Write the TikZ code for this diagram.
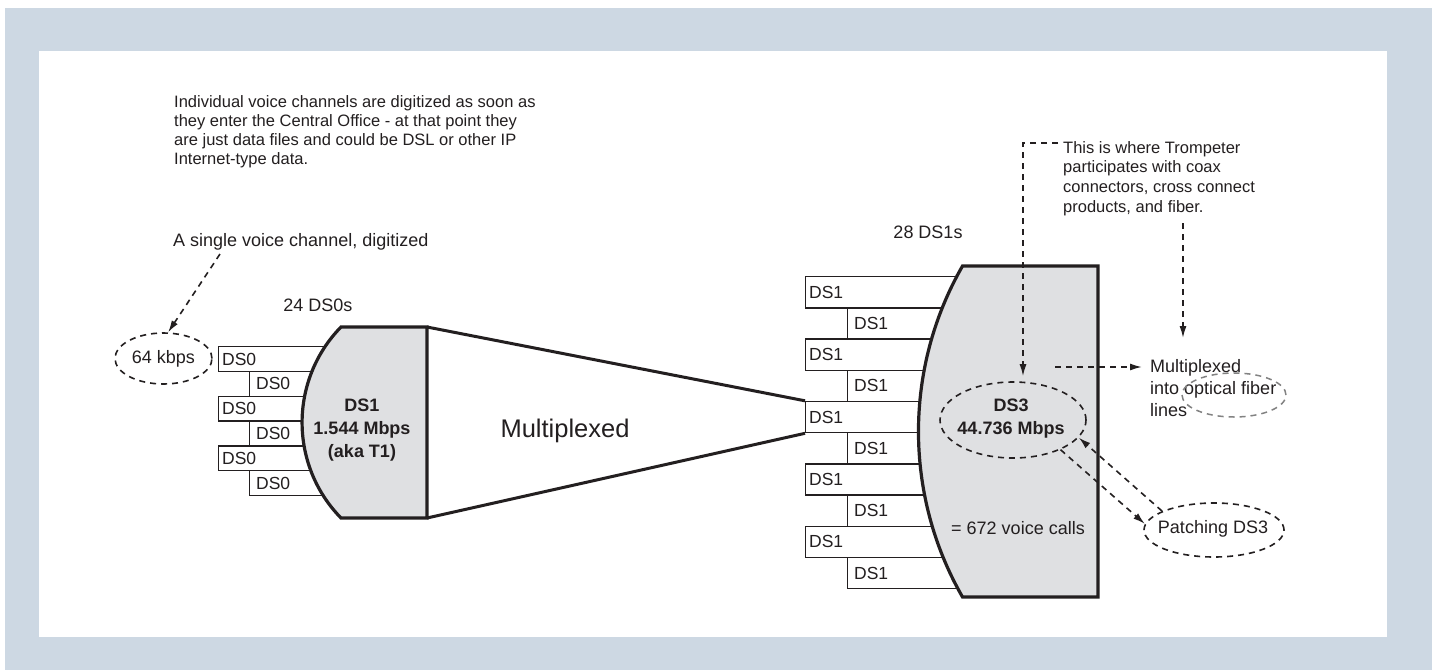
\documentclass[tikz,border=0pt]{standalone}
\usepackage{fontspec}
\setmainfont{Liberation Sans}
\usetikzlibrary{arrows.meta,shapes.geometric}
\definecolor{bgblue}{RGB}{205,216,227}
\definecolor{shapegray}{RGB}{223,224,226}
\definecolor{ink}{RGB}{35,31,32}
\definecolor{fibergray}{RGB}{130,130,130}
\newcommand\tfpara{\fontsize{16.5}{19}\selectfont}
\newcommand\tfparb{\fontsize{16.5}{19.7}\selectfont}
\newcommand\tfnorm{\fontsize{18}{22}\selectfont}
\newcommand\tfboxt{\fontsize{17.5}{20}\selectfont}
\newcommand\tfbig{\fontsize{25.5}{30}\selectfont}
\newcommand\tfbold{\fontsize{18}{23}\selectfont\bfseries}
\begin{document}
\begin{tikzpicture}[x=1pt,y=-1pt,
  txt/.style={text=ink, inner sep=0pt, font=\tfnorm},
  boxA/.style={draw=ink, line width=1.3pt, fill=white, anchor=north west, text=ink,
    font=\tfboxt, inner ysep=0pt, inner xsep=3.5pt, align=left},
  dza/.style={boxA, text width=155pt, minimum height=24.8pt},
  dzb/.style={boxA, inner xsep=6.5pt, text width=118pt, minimum height=24.8pt},
  doa/.style={boxA, text width=163pt, minimum height=31.2pt},
  dob/.style={boxA, inner xsep=6.5pt, text width=115pt, minimum height=31.2pt},
  shapeline/.style={draw=ink, line width=3.2pt, fill=shapegray, line join=miter},
  thickline/.style={draw=ink, line width=3pt},
  dashline/.style={draw=ink, line width=1.6pt, dash pattern=on 6pt off 5pt},
  dasharrow/.style={dashline, -{Latex[length=12pt,width=7pt]}},
  dellipse/.style={ellipse, dashline, inner sep=0pt}]
\useasboundingbox (0,0) rectangle (1432,670);
\fill[bgblue] (5,8) rectangle (1432,670);
\fill[white] (39,51) rectangle (1387,637);

% intro texts
\node[txt, anchor=north west, align=left, font=\tfpara] (intro) at (174,95)
  {Individual voice channels are digitized as soon as\\they enter the Central Office - at that point they\\are just data files and could be DSL or other IP\\Internet-type data.};
\node[txt, anchor=base west] (single) at (173,246) {A single voice channel, digitized};
\coordinate (sstart) at (220,254);
\node[dellipse, minimum width=97pt, minimum height=51pt] (kbps) at (163.5,358.5) {};
\node[txt] (kbpslbl) at (kbps) {64 kbps};
\draw[dasharrow] (sstart) -- (kbps.80);
\node[txt, anchor=base] (dzcount) at (318,311) {24 DS0s};

% DS0 boxes
\node[dza] (d1) at (218,346) {DS0};
\node[dzb] (d2) at (249,370.8) {DS0};
\node[dza] (d3) at (218,395.6) {DS0};
\node[dzb] (d4) at (249,420.4) {DS0};
\node[dza] (d5) at (218,445.2) {DS0};
\node[dzb] (d6) at (249,470) {DS0};

% DS1 boxes
\node[doa] (r1) at (805,276) {DS1};
\node[dob] (r2) at (847,307.2) {DS1};
\node[doa] (r3) at (805,338.4) {DS1};
\node[dob] (r4) at (847,369.6) {DS1};
\node[doa] (r5) at (805,400.8) {DS1};
\node[dob] (r6) at (847,432) {DS1};
\node[doa] (r7) at (805,463.2) {DS1};
\node[dob] (r8) at (847,494.4) {DS1};
\node[doa] (r9) at (805,525.6) {DS1};
\node[dob] (r10) at (847,556.8) {DS1};

% DS1 shape
\coordinate (ds1nw) at (341,327);
\coordinate (ds1ne) at (427,327);
\coordinate (ds1se) at (427,518);
\coordinate (ds1sw) at (341,518);
\draw[shapeline] (ds1sw) .. controls (289.1,465) and (289.1,380) .. (ds1nw) -- (ds1ne) -- (ds1se) -- cycle;
\node[txt, anchor=north, align=center, font=\tfbold] (ds1lbl) at (362,398.5) {DS1\\1.544 Mbps\\(aka T1)};

% multiplex connectors
\draw[thickline] (ds1ne) -- (r5.north west);
\draw[thickline] (ds1se) -- (r5.south west);
\node[txt, anchor=base, font=\tfbig] (muxlbl) at (565,437) {Multiplexed};

% DS3 shape
\coordinate (ds3nw) at (962.5,266);
\coordinate (ds3ne) at (1098,266);
\coordinate (ds3se) at (1098,597);
\coordinate (ds3sw) at (962.5,597);
\draw[shapeline] (ds3sw) .. controls (903.8,494.7) and (903.8,368.3) .. (ds3nw) -- (ds3ne) -- (ds3se) -- cycle;
\node[txt, anchor=base] (docount) at (928,238.5) {28 DS1s};
\node[dellipse, minimum width=146pt, minimum height=76pt] (ds3e) at (1013,420) {};
\node[txt, anchor=north, align=center, font=\tfbold] (ds3lbl) at (1011,398.5) {DS3\\44.736 Mbps};
\node[txt, anchor=base] (calls) at (1018,534.5) {= 672 voice calls};

% Trompeter note
\node[txt, anchor=north west, align=left, font=\tfparb] (tromp) at (1063,141)
  {This is where Trompeter\\participates with coax\\connectors, cross connect\\products, and fiber.};
\coordinate (tstart) at (1058,143);
\draw[dasharrow] (tstart) -| ([xshift=10pt,yshift=5pt]ds3e.north);

% fiber
\node[txt, anchor=north west, align=left, font=\tfnorm] (fiberlbl) at (1150,359.5)
  {Multiplexed\\into optical fiber\\lines};
\node[ellipse, draw=fibergray, line width=1.5pt, dash pattern=on 6pt off 5pt,
  minimum width=104pt, minimum height=44pt, inner sep=0pt] (fibere) at (1234,395) {};
\coordinate (t2start) at (1183,223);
\draw[dasharrow, shorten >=21.5pt] (t2start) -- (t2start |- fiberlbl.north);
\coordinate (hstart) at (1055,367);
\draw[dasharrow, shorten >=8pt] (hstart) -- (hstart -| fiberlbl.west);

% patching
\node[dellipse, minimum width=140pt, minimum height=54pt] (patch) at (1214,530) {};
\node[txt] (patchlbl) at (1213,529) {Patching DS3};
\draw[dasharrow] (patch.160) -- (ds3e.-15);
\draw[dasharrow] (ds3e.-32) -- (patch.175);
\end{tikzpicture}
\end{document}
